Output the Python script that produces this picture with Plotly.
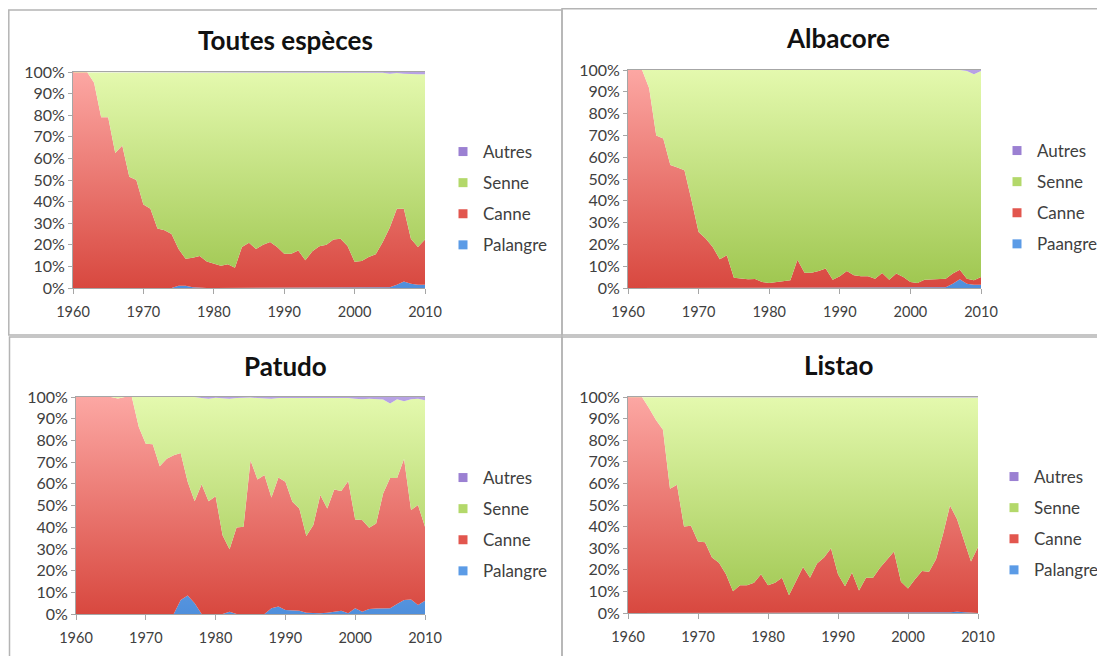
import plotly.graph_objects as go

years = list(range(1960, 2011))

# ---- Toutes espèces (shares in %) ----
palangre_toutes = [0, 0, 0, 0, 0, 0, 0, 0, 0, 0, 0, 0, 0, 0, 0,
                   1, 1, 0.3, 0, 0, 0, 0, 0, 0, 0, 0, 0, 0, 0, 0,
                   0, 0, 0, 0, 0, 0, 0, 0, 0, 0, 0, 0, 0, 0, 0,
                   0.3, 1.5, 3, 2, 1.5, 1.5]
canne_toutes = [100, 100, 100, 95, 79, 79, 62.5, 66, 51.5, 50,
                38.7, 36.7, 27.5, 26.7, 25, 17, 12.5, 13.7, 14.8, 12.3,
                11.4, 10.3, 11, 9.4, 19, 21, 18, 20, 21.3, 19,
                15.9, 15.9, 17.4, 12.8, 17, 19.3, 20, 22.4, 22.8, 19.4,
                12.2, 12.5, 14.4, 15.6, 21.3, 27.7, 35.2, 33.7, 20.8, 17.5, 21]
senne_toutes = [0, 0, 0, 5, 21, 21, 37.5, 34, 48.5, 50,
                61.3, 63.3, 72.5, 73.3, 75, 81.7, 86.2, 85.7, 84.9, 87.4,
                88.3, 89.4, 88.7, 90.3, 80.7, 78.7, 81.7, 79.7, 78.4, 80.7,
                83.8, 83.8, 82.3, 86.9, 82.7, 80.4, 79.7, 77.3, 76.9, 80.3,
                87.5, 87.2, 85.3, 84.1, 78.4, 71.2, 62.8, 62.5, 76.2, 80, 76.5]
autres_toutes = [0] * 15 + [0.3] * 30 + [0.8, 0.5, 0.8, 1, 1, 1]

# ---- Albacore ----
palangre_alb = [0] * 45 + [0.3, 2, 4, 2, 1.5, 1.5]
canne_alb = [100, 100, 100, 91.6, 70, 68.6, 56.4, 55.3, 54, 40.3,
             25.7, 22.7, 18.8, 13.2, 15, 4.7, 4.3, 4, 4.1, 2.8,
             2.3, 2.8, 3.2, 3.5, 13, 7, 7, 7.8, 9, 3.8,
             5.4, 7.8, 5.8, 5.4, 5.4, 4.3, 6.9, 3.8, 6.6, 5,
             2.8, 2.3, 3.8, 4, 4, 4, 4.6, 4.4, 2.3, 2, 3.5]
senne_alb = [0, 0, 0, 8.4, 30, 31.4, 43.6, 44.7, 46, 59.7,
             74.3, 77.3, 81.2, 86.8, 85, 95.3, 95.7, 96, 95.9, 97.2,
             97.7, 97.2, 96.8, 96.5, 87, 93, 93, 92.2, 91, 96.2,
             94.6, 92.2, 94.2, 94.6, 94.6, 95.7, 93.1, 96.2, 93.4, 95,
             97.2, 97.7, 96.2, 96, 96, 95.7, 93.4, 91.6, 95.2, 94.5, 94.5]
autres_alb = [0] * 48 + [0.5, 2, 0.5]

# ---- Patudo ----
palangre_pat = [0] * 15 + [6.5, 8.5, 5, 0, 0,
                           0, 0, 1, 0, 0,
                           0, 0, 0, 2.6, 3.4,
                           1.8, 1.8, 1.5, 0.6, 0.3,
                           0.3, 0.6, 1, 1.5, 0.3,
                           2.6, 1, 2.3, 2.5, 2.5,
                           2.6, 4.6, 6.4, 6.7, 4.1, 6.1]
canne_pat = [100, 100, 100, 100, 100, 100, 99.3, 100, 100, 86.2,
             78.5, 78.2, 68.1, 71.6, 73.2, 67.7, 52.5, 47, 59.8, 52,
             54.3, 36.3, 28.8, 39.9, 40.2, 70.9, 62, 64, 51.1, 59.5,
             59.1, 49.9, 47.1, 35.4, 40.7, 54.5, 48, 56.4, 55.2, 61,
             41, 42.3, 37.4, 39.2, 53, 60.1, 58.1, 65.2, 41.2, 46.1, 34.1]
senne_pat = [0, 0, 0, 0, 0, 0, 0.7, 0, 0, 13.8,
             21.5, 21.8, 31.9, 28.4, 26.8, 25.8, 39, 48, 39.7, 47.2,
             45.4, 63.2, 69.4, 59.6, 59.5, 28.9, 37.5, 35.2, 45.5, 36.6,
             38.6, 47.8, 51.1, 63.7, 58.8, 45, 51.2, 42.3, 43, 38.2,
             55.6, 55.7, 59.5, 57.3, 43.3, 34.3, 36.3, 26.4, 51.1, 49, 58.3]
autres_pat = [0] * 18 + [0.5, 0.8,
                         0.3, 0.5, 0.8, 0.5, 0.3, 0.2, 0.5, 0.8, 0.8, 0.5,
                         0.5, 0.5, 0.3, 0.3, 0.2, 0.2, 0.2, 0.3, 0.3, 0.5,
                         0.8, 1, 0.8, 1, 1.2, 3, 1, 2, 1, 0.8, 1.5]

# ---- Listao ----
palangre_lis = [0] * 46 + [0.3, 0.6, 0.3, 0, 0]
canne_lis = [100, 100, 100, 94.9, 89.4, 84.8, 57.5, 59.4, 40, 40.4,
             33.1, 32.7, 25.7, 23.3, 17.9, 10.1, 12.9, 12.9, 14, 17.9,
             12.9, 14, 16.3, 8.2, 14.8, 21.3, 16.3, 22.9, 25.7, 30,
             17.9, 12.4, 18.7, 10.4, 16.3, 16.3, 21, 24.9, 28.5, 14.5,
             11.4, 15.6, 19.4, 19.1, 24.9, 36.5, 49.5, 42.9, 33.1, 23.8, 30.6]
senne_lis = [0, 0, 0, 5.1, 10.6, 15.2, 42.5, 40.6, 60, 59.6,
             66.9, 67.3, 74.3, 76.7, 82.1, 89.9, 87.1, 87.1, 86, 82.1,
             87.1, 86, 83.7, 91.8, 85.2, 78.7, 83.7, 77.1, 74.3, 70,
             82.1, 87.6, 81.3, 89.6, 83.7, 83.7, 79, 75.1, 71.5, 85.5,
             88.6, 84.4, 80.6, 80.9, 75.1, 63.5, 50.2, 56.5, 66.3, 76, 69.2]
autres_lis = [0] * 48 + [0.3, 0.2, 0.2]

titles = ["Toutes espèces", "Albacore", "Patudo", "Listao"]
legend_palangre_labels = ["Palangre", "Paangre", "Palangre", "Palangre"]
tick_years = [1960, 1970, 1980, 1990, 2000, 2010]

# the page body adds an 8 px margin, so the figure is sized/offset to land on the same pixels
OFF = 8
W, H = 1105 - OFF, 656 - OFF


def px_x(v):
    return (v - OFF) / W


def px_y(v):
    return 1 - (v - OFF) / H


panels = [
    dict(title=titles[0], pal=palangre_toutes, can=canne_toutes, sen=senne_toutes, aut=autres_toutes,
         px=(73, 425), py=(72, 288), tpos=(285, 40), leg=(443, 134)),
    dict(title=titles[1], pal=palangre_alb, can=canne_alb, sen=senne_alb, aut=autres_alb,
         px=(628, 981), py=(70, 288), tpos=(838, 38), leg=(997, 133)),
    dict(title=titles[2], pal=palangre_pat, can=canne_pat, sen=senne_pat, aut=autres_pat,
         px=(76, 425), py=(397, 614), tpos=(285, 366), leg=(443, 460)),
    dict(title=titles[3], pal=palangre_lis, can=canne_lis, sen=senne_lis, aut=autres_lis,
         px=(628, 978), py=(397, 613), tpos=(838, 365), leg=(994, 459)),
]

series_style = {
    "Palangre": dict(bottom="#4f8fdc", top="#9cc8f4", legend="#5b9be6"),
    "Canne": dict(bottom="#d8483f", top="#fca7a3", legend="#e2564e"),
    "Senne": dict(bottom="#9ec64f", top="#e4f9ae", legend="#b3d86a"),
    "Autres": dict(bottom="#8c70c8", top="#b7a2e4", legend="#9b80d2"),
}

FONT = "Lato"
fig = go.Figure()
layout = dict(
    width=W, height=H, autosize=False,
    margin=dict(l=0, r=0, t=0, b=0, pad=0, autoexpand=False),
    paper_bgcolor="white", plot_bgcolor="white",
    showlegend=True,
    annotations=[], shapes=[],
)

for i, p in enumerate(panels):
    n = "" if i == 0 else str(i + 1)
    xa, ya = "x" + n, "y" + n
    legname = "legend" + n
    data = [("Palangre", p["pal"]), ("Canne", p["can"]), ("Senne", p["sen"]), ("Autres", p["aut"])]
    for name, vals in data:
        st = series_style[name]
        fig.add_trace(go.Scatter(
            x=years, y=vals, xaxis=xa, yaxis=ya,
            stackgroup="s" + str(i), groupnorm="percent",
            mode="lines", line=dict(width=0, color=st["legend"]),
            fillgradient=dict(type="vertical", start=0, stop=100,
                              colorscale=[[0, st["bottom"]], [1, st["top"]]]),
            name=name, showlegend=False,
            hovertemplate="%{x}: %{y:.1f}%<extra>" + name + "</extra>",
        ))
    # legend entries (top to bottom: Autres, Senne, Canne, Palangre)
    for name in ["Autres", "Senne", "Canne", "Palangre"]:
        label = legend_palangre_labels[i] if name == "Palangre" else name
        fig.add_trace(go.Scatter(
            x=[None], y=[None], xaxis=xa, yaxis=ya, mode="markers",
            marker=dict(symbol="square", size=9, color=series_style[name]["legend"]),
            name=label, legend=legname, legendgroup=name + n, showlegend=True,
        ))
    layout[legname] = dict(
        x=px_x(p["leg"][0]), y=px_y(p["leg"][1]), xanchor="left", yanchor="top",
        traceorder="grouped", tracegroupgap=6,
        font=dict(family=FONT, size=17, color="#404040"),
        bgcolor="rgba(0,0,0,0)", itemclick=False, itemdoubleclick=False,
    )
    layout["xaxis" + n] = dict(
        domain=[px_x(p["px"][0]), px_x(p["px"][1])], anchor=ya,
        range=[1960, 2010], tickvals=tick_years, showgrid=False, zeroline=False,
        showline=True, linecolor="#a6a6a6", linewidth=1, mirror=True,
        ticks="outside", ticklen=5, tickcolor="#a6a6a6",
        ticklabelstandoff=6, automargin=False,
        tickfont=dict(family=FONT, size=14.5, color="#404040"),
    )
    layout["yaxis" + n] = dict(
        domain=[px_y(p["py"][1]), px_y(p["py"][0])], anchor=xa,
        range=[0, 100], dtick=10, ticksuffix="%", showgrid=False, zeroline=False,
        showline=True, linecolor="#a6a6a6", linewidth=1,
        ticks="outside", ticklen=4, tickcolor="#a6a6a6", automargin=False,
        tickfont=dict(family=FONT, size=16, color="#404040"),
    )
    layout["annotations"].append(dict(
        text=p["title"], x=px_x(p["tpos"][0]), y=px_y(p["tpos"][1]),
        xref="paper", yref="paper", xanchor="center", yanchor="middle", showarrow=False,
        font=dict(family=FONT, size=26, color="#111111", weight="bold"),
    ))

# panel frames
frames = [(8.8, 10, 562, 335), (562, 8.8, 1115, 335), (9.5, 337, 562, 670), (562, 337, 1115, 670)]
for x0, y0, x1, y1 in frames:
    layout["shapes"].append(dict(
        type="rect", xref="paper", yref="paper",
        x0=px_x(x0), x1=px_x(x1), y0=px_y(y1), y1=px_y(y0),
        line=dict(color="#b4b4b4", width=1.5), fillcolor="rgba(0,0,0,0)", layer="below",
    ))

fig.update_layout(**layout)
fig.write_html("out.html")
